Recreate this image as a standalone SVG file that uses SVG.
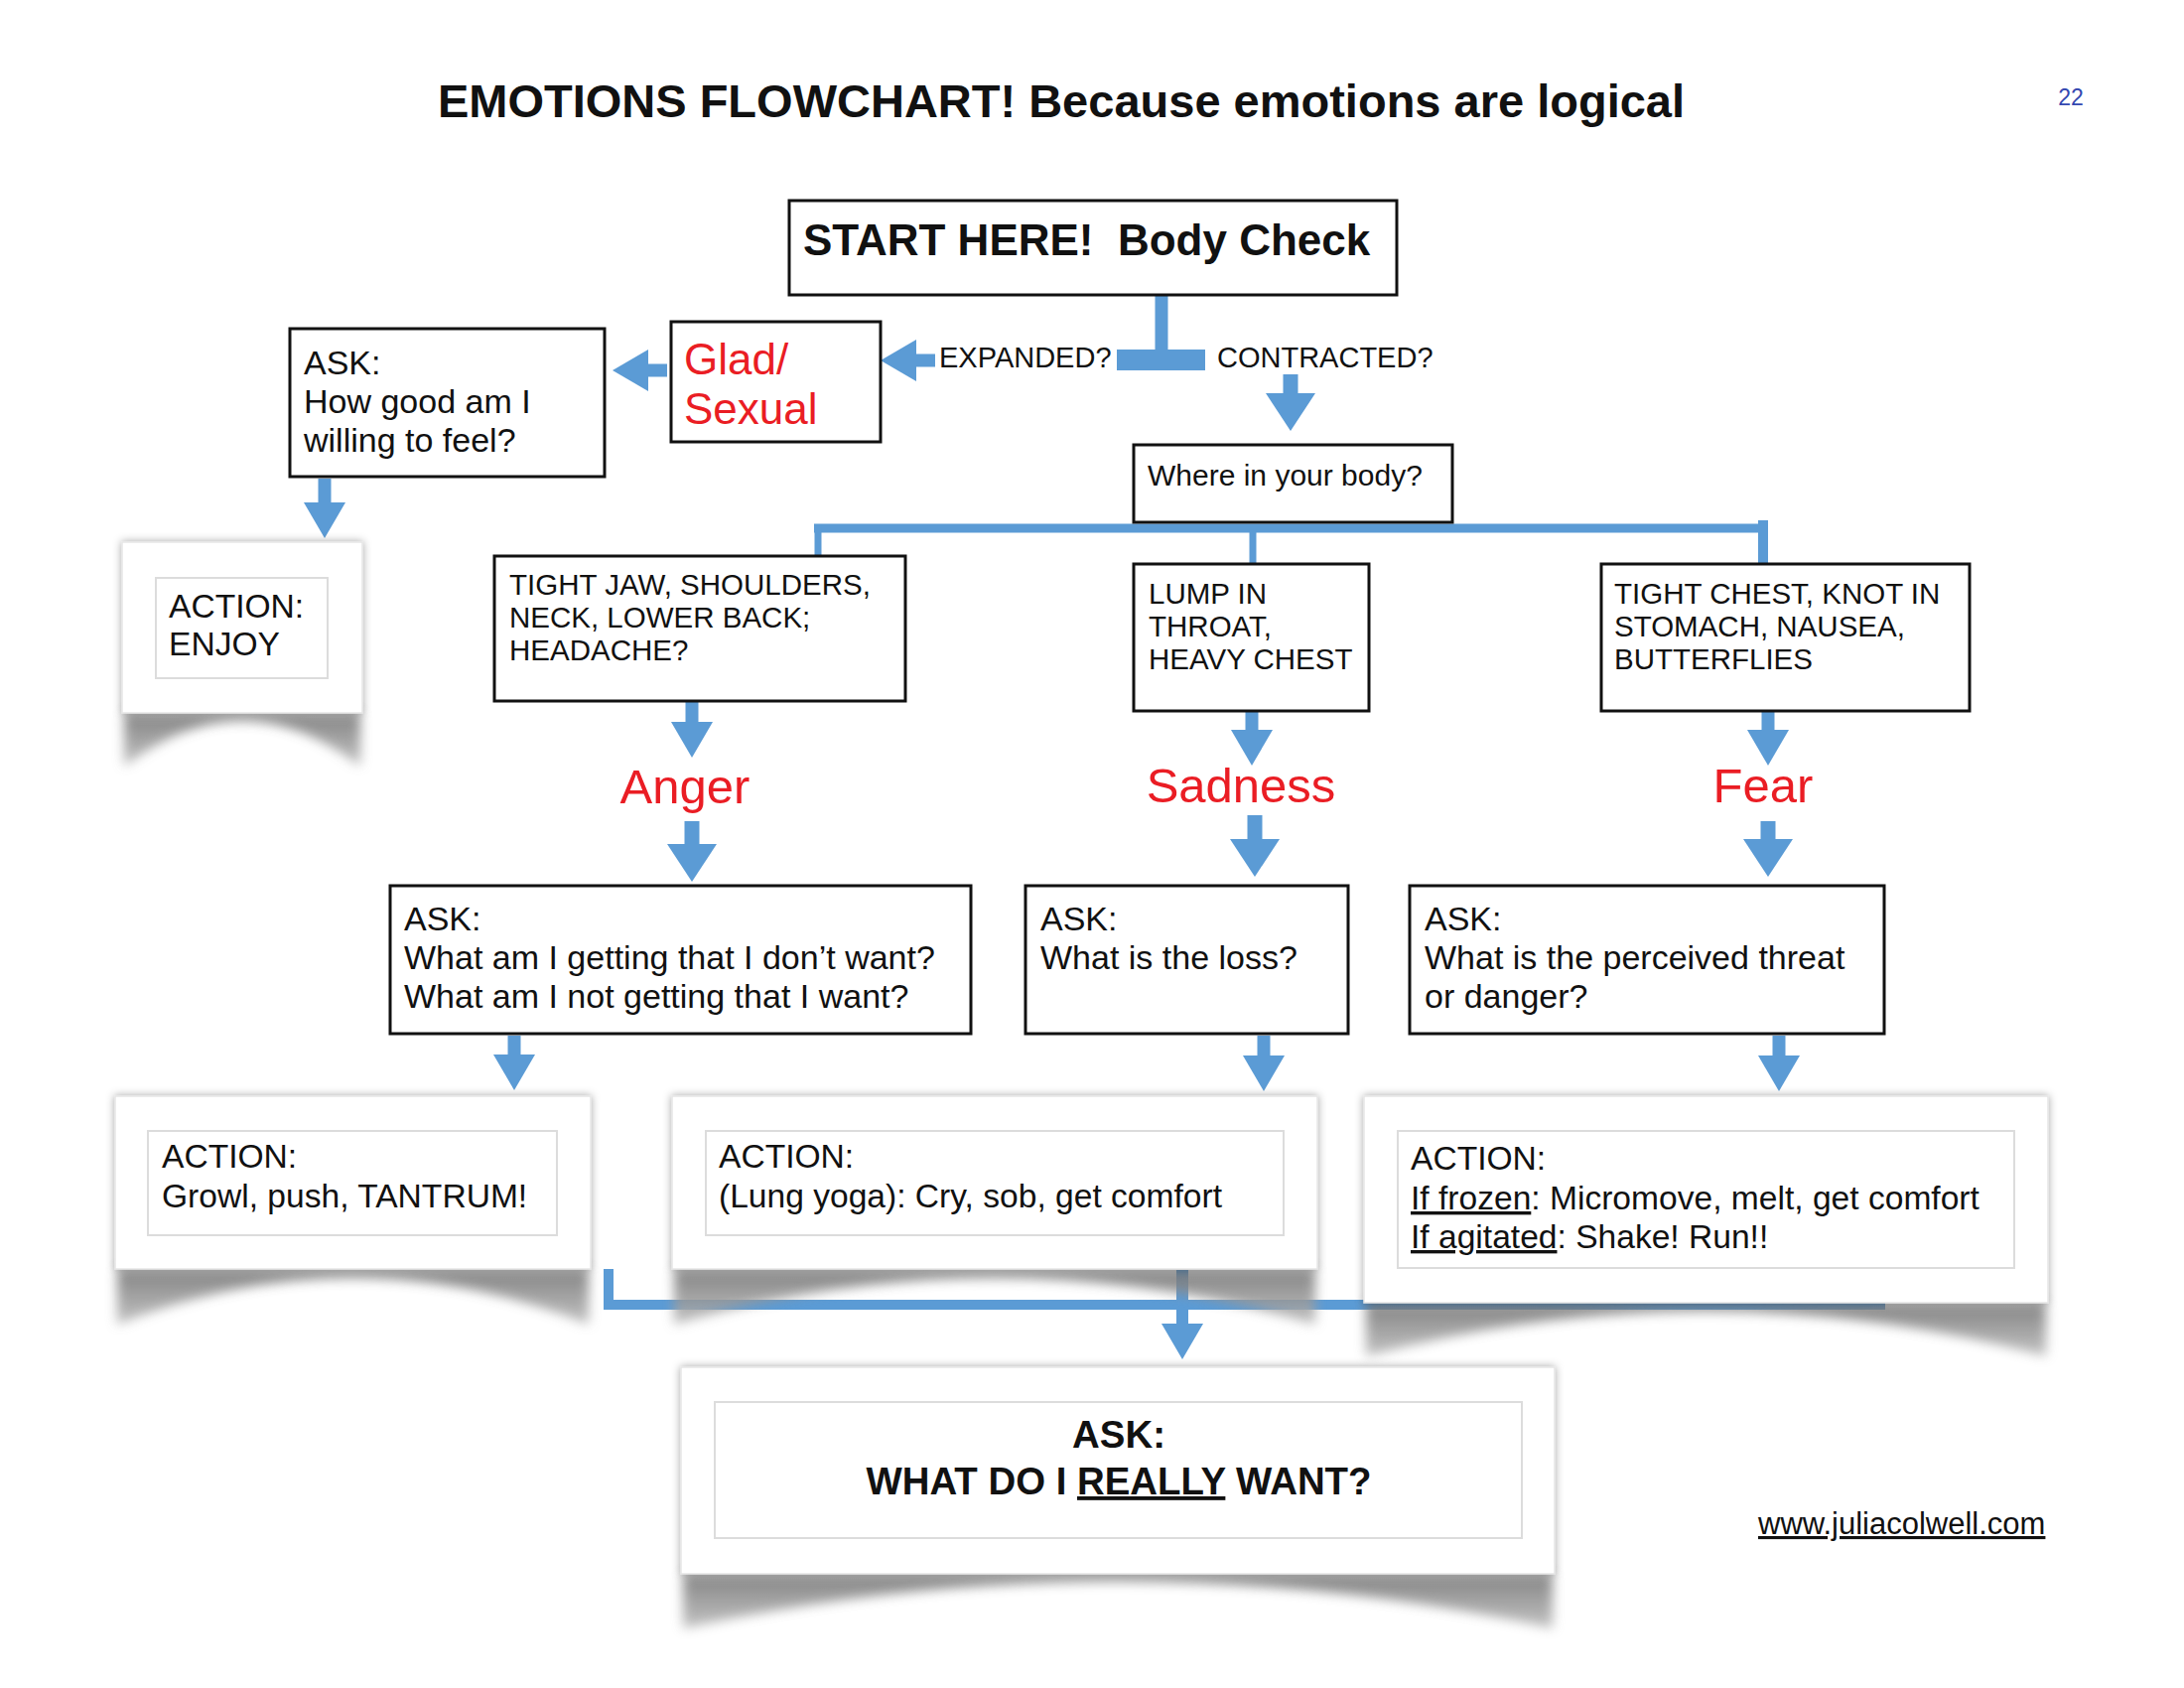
<svg xmlns="http://www.w3.org/2000/svg" width="2200" height="1700" viewBox="0 0 2200 1700">
<style>
text{font-family:"Liberation Sans",Arial,Helvetica,sans-serif;fill:#111}
.box{fill:#fff;stroke:#111;stroke-width:3}
.card{fill:#fff;stroke:#e6e6e6;stroke-width:1.5}
.inner{fill:#fff;stroke:#dcdcdc;stroke-width:2}
.curl{fill:url(#curlGrad);opacity:.85}
.t34{font-size:34px}
.t33{font-size:33.6px}
.t29{font-size:29.5px}
.t28{font-size:29px}
.emo{font-size:49px;fill:#ea1d24;text-anchor:middle}
.b43{font-size:44px;font-weight:bold}
.conn{stroke:#5b9bd5;fill:none;stroke-width:13}
.arr{stroke:#5b9bd5;fill:none;stroke-width:13;marker-end:url(#ah)}
.arrL{stroke:#5b9bd5;fill:none;stroke-width:15;marker-end:url(#ahL)}
.u{text-decoration:underline}
</style>
<defs>
<marker id="ah" markerUnits="userSpaceOnUse" viewBox="0 0 36 42" markerWidth="36" markerHeight="42" refX="1" refY="21" orient="auto"><path d="M0,0 L36,21 L0,42 Z" fill="#5b9bd5"/></marker>
<marker id="ahL" markerUnits="userSpaceOnUse" viewBox="0 0 38 50" markerWidth="38" markerHeight="50" refX="1" refY="25" orient="auto"><path d="M0,0 L38,25 L0,50 Z" fill="#5b9bd5"/></marker>
<linearGradient id="curlGrad" x1="0" y1="0" x2="0" y2="1"><stop offset="0" stop-color="#6f6f6f"/><stop offset="1" stop-color="#b8b8b8"/></linearGradient>
<filter id="soft" x="-10%" y="-10%" width="120%" height="120%"><feDropShadow dx="0" dy="0" stdDeviation="4" flood-color="#000" flood-opacity="0.35"/></filter>
<filter id="blur" x="-10%" y="-50%" width="120%" height="200%"><feGaussianBlur stdDeviation="6"/></filter>
</defs>
<rect width="2200" height="1700" fill="#fff"/>

<text x="1069" y="118" text-anchor="middle" font-size="47" font-weight="bold">EMOTIONS FLOWCHART! Because emotions are logical</text>
<text x="2086" y="106" text-anchor="middle" font-size="23" style="fill:#3347b0">22</text>

<g id="connectors">
<line class="conn" x1="1170" y1="297" x2="1170" y2="355"/>
<rect x="1125" y="352" width="89" height="21" fill="#5b9bd5"/>
<line class="arr" x1="942" y1="363" x2="922" y2="363"/>
<line class="arr" x1="672" y1="373" x2="652" y2="373"/>
<line class="arr" x1="327" y1="482" x2="327" y2="507"/>
<line class="arrL" x1="1300" y1="377" x2="1300" y2="397"/>
<line class="conn" style="stroke-width:9" x1="820" y1="532" x2="1781" y2="532"/>
<line class="conn" style="stroke-width:7" x1="824" y1="528" x2="824" y2="560"/>
<line class="conn" style="stroke-width:7" x1="1262" y1="532" x2="1262" y2="568"/>
<line class="conn" style="stroke-width:10" x1="1776" y1="524" x2="1776" y2="568"/>
<line class="arr" x1="697" y1="707" x2="697" y2="728"/>
<line class="arrL" x1="697" y1="827" x2="697" y2="851"/>
<line class="arr" x1="518" y1="1043" x2="518" y2="1063"/>
<line class="arr" x1="1261" y1="716" x2="1261" y2="736"/>
<line class="arrL" x1="1264" y1="821" x2="1264" y2="846"/>
<line class="arr" x1="1273" y1="1043" x2="1273" y2="1064"/>
<line class="arr" x1="1781" y1="716" x2="1781" y2="736"/>
<line class="arrL" x1="1781" y1="827" x2="1781" y2="846"/>
<line class="arr" x1="1792" y1="1043" x2="1792" y2="1064"/>
<polyline class="conn" style="stroke-width:10" points="613,1278 613,1314 1899,1314"/>
<line class="arr" style="stroke-width:12" x1="1191" y1="1279" x2="1191" y2="1334"/>
</g>

<g id="start">
<rect class="box" x="795" y="202" width="612" height="95"/>
<text class="b43" x="809" y="257">START HERE!&#160; Body Check</text>
</g>

<g id="expanded-label"><text class="t28" x="946" y="370">EXPANDED?</text></g>
<g id="contracted-label"><text class="t28" x="1226" y="370">CONTRACTED?</text></g>

<g id="glad">
<rect class="box" x="676" y="324" width="211" height="121"/>
<text x="689" y="377" font-size="44" style="fill:#ea1d24">Glad/</text>
<text x="689" y="427" font-size="44" style="fill:#ea1d24">Sexual</text>
</g>

<g id="ask-glad">
<rect class="box" x="292" y="331" width="317" height="149"/>
<text class="t34" x="306" y="377">ASK:</text>
<text class="t34" x="306" y="416">How good am I</text>
<text class="t34" x="306" y="455">willing to feel?</text>
</g>

<g id="action-enjoy">
<path class="curl" filter="url(#blur)" d="M125,718 H363 V772 Q244,680 125,772 Z"/>
<rect class="card" filter="url(#soft)" x="123" y="546" width="242" height="172"/>
<rect class="inner" x="157" y="582" width="173" height="101"/>
<text class="t33" x="170" y="622">ACTION:</text>
<text class="t33" x="170" y="660">ENJOY</text>
</g>

<g id="where">
<rect class="box" x="1142" y="448" width="321" height="78"/>
<text class="t28" x="1156" y="489" style="font-size:30px">Where in your body?</text>
</g>

<g id="jaw">
<rect class="box" x="498" y="560" width="414" height="146"/>
<text class="t29" x="513" y="599">TIGHT JAW, SHOULDERS,</text>
<text class="t29" x="513" y="632">NECK, LOWER BACK;</text>
<text class="t29" x="513" y="665">HEADACHE?</text>
</g>

<g id="lump">
<rect class="box" x="1142" y="568" width="237" height="148"/>
<text class="t29" x="1157" y="608">LUMP IN</text>
<text class="t29" x="1157" y="641">THROAT,</text>
<text class="t29" x="1157" y="674">HEAVY CHEST</text>
</g>

<g id="chest">
<rect class="box" x="1613" y="568" width="371" height="148"/>
<text class="t29" x="1626" y="608">TIGHT CHEST, KNOT IN</text>
<text class="t29" x="1626" y="641">STOMACH, NAUSEA,</text>
<text class="t29" x="1626" y="674">BUTTERFLIES</text>
</g>

<g id="anger"><text class="emo" x="690" y="809">Anger</text></g>
<g id="sadness"><text class="emo" x="1250" y="808">Sadness</text></g>
<g id="fear"><text class="emo" x="1776" y="808">Fear</text></g>

<g id="ask-anger">
<rect class="box" x="393" y="892" width="585" height="149"/>
<text class="t34" x="407" y="937">ASK:</text>
<text class="t34" x="407" y="976">What am I getting that I don’t want?</text>
<text class="t34" x="407" y="1015">What am I not getting that I want?</text>
</g>

<g id="ask-sadness">
<rect class="box" x="1033" y="892" width="325" height="149"/>
<text class="t34" x="1048" y="937">ASK:</text>
<text class="t34" x="1048" y="976">What is the loss?</text>
</g>

<g id="ask-fear">
<rect class="box" x="1420" y="892" width="478" height="149"/>
<text class="t34" x="1435" y="937">ASK:</text>
<text class="t34" x="1435" y="976">What is the perceived threat</text>
<text class="t34" x="1435" y="1015">or danger?</text>
</g>

<g id="action-anger">
<path class="curl" filter="url(#blur)" d="M118,1278 H593 V1334 Q355,1240 118,1334 Z"/>
<rect class="card" filter="url(#soft)" x="116" y="1104" width="479" height="174"/>
<rect class="inner" x="149" y="1139" width="412" height="105"/>
<text class="t33" x="163" y="1176">ACTION:</text>
<text class="t33" x="163" y="1216">Growl, push, TANTRUM!</text>
</g>

<g id="action-sadness">
<path class="curl" filter="url(#blur)" d="M679,1278 H1325 V1334 Q1002,1240 679,1334 Z"/>
<rect class="card" filter="url(#soft)" x="677" y="1104" width="650" height="174"/>
<rect class="inner" x="711" y="1139" width="582" height="105"/>
<text class="t33" x="724" y="1176">ACTION:</text>
<text class="t33" x="724" y="1216">(Lung yoga): Cry, sob, get comfort</text>
</g>

<g id="action-fear">
<path class="curl" filter="url(#blur)" d="M1376,1312 H2061 V1366 Q1718,1275 1376,1366 Z"/>
<rect class="card" filter="url(#soft)" x="1374" y="1104" width="689" height="208"/>
<rect class="inner" x="1408" y="1139" width="621" height="138"/>
<text class="t33" x="1421" y="1178">ACTION:</text>
<text class="t33" x="1421" y="1218"><tspan class="u">If frozen</tspan>: Micromove, melt, get comfort</text>
<text class="t33" x="1421" y="1257"><tspan class="u">If agitated</tspan>: Shake! Run!!</text>
</g>

<g id="ask-final">
<path class="curl" filter="url(#blur)" d="M688,1585 H1564 V1640 Q1126,1545 688,1640 Z"/>
<rect class="card" filter="url(#soft)" x="686" y="1377" width="880" height="208"/>
<rect class="inner" x="720" y="1412" width="813" height="137"/>
<text x="1127" y="1458" text-anchor="middle" font-size="38.4" font-weight="bold">ASK:</text>
<text x="1127" y="1505" text-anchor="middle" font-size="38.4" font-weight="bold">WHAT DO I <tspan class="u">REALLY</tspan> WANT?</text>
</g>

<g id="website"><text x="1771" y="1545" font-size="31" class="u">www.juliacolwell.com</text></g>
</svg>
